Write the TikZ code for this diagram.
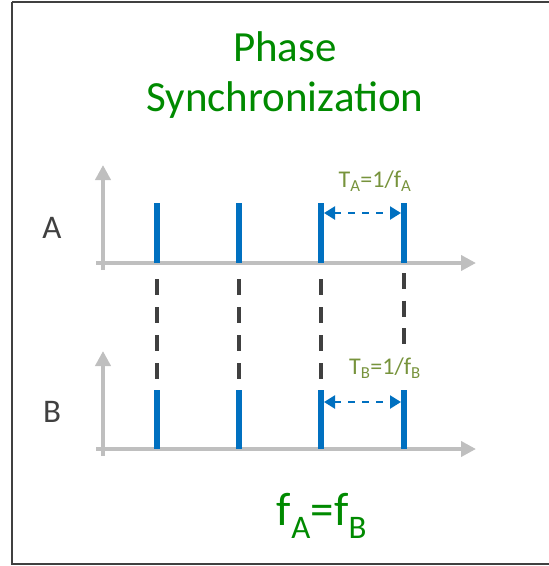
\documentclass[tikz,border=0pt]{standalone}
\usepackage{fontspec}
\setmainfont{Carlito}
\usetikzlibrary{arrows.meta}
\definecolor{axisgray}{HTML}{BFBFBF}
\definecolor{barblue}{HTML}{0070C0}
\definecolor{olive}{HTML}{77933C}
\definecolor{titlegreen}{HTML}{008A00}
\definecolor{dgray}{HTML}{404040}
\tikzset{
  axis/.style={draw=axisgray, line width=4.5pt, -{Triangle[length=15pt,width=15pt]}},
  bar/.style={draw=barblue, line width=6pt},
  sync/.style={draw=dgray, line width=3.5pt, dash pattern=on 16pt off 12pt},
  period/.style={draw=barblue, line width=2.2pt, dash pattern=on 7pt off 7pt, {Triangle[length=11pt,width=13pt]}-{Triangle[length=11pt,width=13pt]}},
  lbl/.style={text=dgray, font=\fontsize{33}{36}\selectfont},
  plbl/.style={text=olive, font=\fontsize{24}{28}\selectfont}
}
\begin{document}
\begin{tikzpicture}[x=1pt,y=-1pt]
\useasboundingbox (0,0) rectangle (549,566);
\draw[draw=dgray, line width=2.5pt] (12,2) -- (560,2) (12,2) -- (12,564) -- (560,564);
% title
\node[text=titlegreen, font=\fontsize{43}{50}\selectfont, align=center] (title) at (285,75) {Phase\\Synchronization};
% labels
\node[lbl] (la) at (52,228) {A};
\node[lbl] (lb) at (52,412) {B};
% axes A
\coordinate (ax0) at (96,263);
\coordinate (ax1) at (476,263);
\coordinate (ay0) at (103,270);
\coordinate (ay1) at (103,165);
\draw[axis] (ax0) -- (ax1);
\draw[axis] (ay0) -- (ay1);
% axes B
\coordinate (bx0) at (96,449);
\coordinate (bx1) at (476,449);
\coordinate (by0) at (103,456);
\coordinate (by1) at (103,351);
\draw[axis] (bx0) -- (bx1);
\draw[axis] (by0) -- (by1);
% bars
\foreach \i/\x in {1/157,2/239,3/321,4/404}{
  \coordinate (at\i) at (\x,203);
  \coordinate (ab\i) at (\x,263);
  \coordinate (bt\i) at (\x,390);
  \coordinate (bb\i) at (\x,449);
  \draw[bar] (at\i) -- (ab\i);
  \draw[bar] (bt\i) -- (bb\i);
}
% sync dashed lines
\coordinate (s1) at (157,279);
\coordinate (e1) at (157,379);
\coordinate (s2) at (239,279);
\coordinate (e2) at (239,379);
\coordinate (s3) at (321,279);
\coordinate (e3) at (321,379);
\coordinate (s4) at (404,273);
\coordinate (e4) at (404,344);
\foreach \i in {1,2,3}{\draw[sync] (s\i) -- (e\i);}
\draw[sync, dash pattern=on 16pt off 11.5pt] (s4) -- (e4);
% period arrows
\coordinate (pa1) at (324,213);
\coordinate (pa2) at (401,213);
\coordinate (pb1) at (324,402);
\coordinate (pb2) at (401,402);
\draw[period] (pa1) -- (pa2);
\draw[period] (pb1) -- (pb2);
\node[plbl] (ta) at (375,181) {T\textsubscript{A}=1/f\textsubscript{A}};
\node[plbl] (tb) at (385,368) {T\textsubscript{B}=1/f\textsubscript{B}};
% equation
\node[text=titlegreen, font=\fontsize{47}{50}\selectfont] (eq) at (322,516) {f\textsubscript{A}=f\textsubscript{B}};
\end{tikzpicture}
\end{document}
